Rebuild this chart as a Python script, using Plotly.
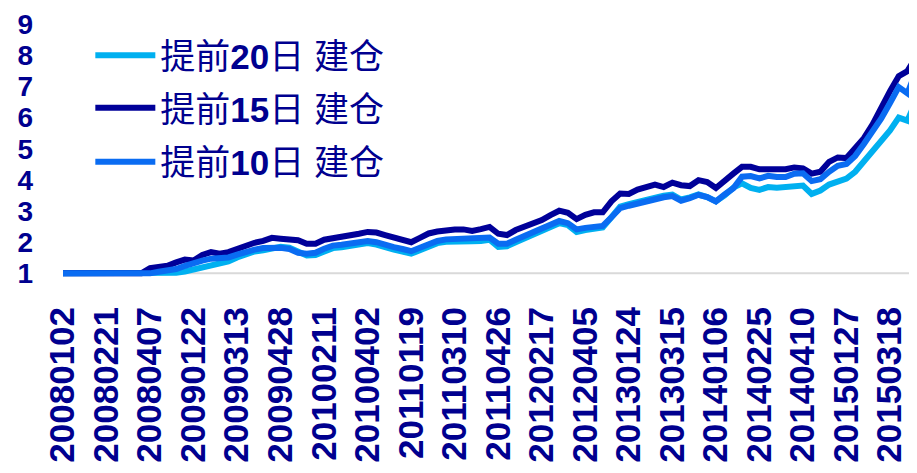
import plotly.graph_objects as go

# ---- data ----
tick_labels = ["20080102", "20080221", "20080407", "20090122", "20090313", "20090428",
               "20100211", "20100402", "20110119", "20110310", "20110426", "20120217",
               "20120405", "20130124", "20130315", "20140106", "20140225", "20140410",
               "20150127", "20150318"]

v20 = [1.00, 1.00, 1.00, 1.00, 1.00, 1.00, 1.00, 1.00, 1.00, 1.00,
       1.00, 1.00, 1.00, 1.02, 1.06, 1.13, 1.21, 1.28, 1.33, 1.38,
       1.51, 1.62, 1.70, 1.74, 1.79, 1.85, 1.82, 1.70, 1.57, 1.59,
       1.71, 1.81, 1.84, 1.87, 1.92, 1.97, 1.92, 1.82, 1.76, 1.70,
       1.63, 1.74, 1.85, 1.97, 2.01, 2.03, 2.02, 2.03, 2.04, 2.08,
       1.85, 1.87, 2.00, 2.12, 2.22, 2.33, 2.47, 2.61, 2.55, 2.33,
       2.39, 2.44, 2.47, 2.80, 3.14, 3.22, 3.30, 3.37, 3.45, 3.49,
       3.53, 3.37, 3.44, 3.53, 3.45, 3.31, 3.50, 3.75, 3.89, 3.74,
       3.68, 3.77, 3.75, 3.77, 3.83, 3.82, 3.55, 3.66, 3.85, 3.97,
       4.04, 4.26, 4.58, 4.89, 5.21, 5.59, 6.00, 5.90, 6.55]

v15 = [1.00, 1.00, 1.00, 1.00, 1.00, 1.00, 1.00, 1.00, 1.00, 1.00,
       1.17, 1.19, 1.24, 1.35, 1.44, 1.41, 1.59, 1.68, 1.63, 1.68,
       1.79, 1.92, 1.98, 2.04, 2.14, 2.11, 2.08, 2.06, 1.95, 1.95,
       2.08, 2.12, 2.17, 2.20, 2.27, 2.33, 2.31, 2.23, 2.16, 2.08,
       2.00, 2.14, 2.28, 2.34, 2.39, 2.41, 2.41, 2.36, 2.42, 2.49,
       2.27, 2.23, 2.39, 2.49, 2.60, 2.71, 2.87, 3.01, 2.94, 2.74,
       2.88, 2.96, 2.96, 3.31, 3.56, 3.55, 3.69, 3.77, 3.85, 3.77,
       3.91, 3.83, 3.80, 3.99, 3.93, 3.74, 3.99, 4.20, 4.42, 4.42,
       4.34, 4.35, 4.37, 4.34, 4.40, 4.37, 4.20, 4.26, 4.58, 4.72,
       4.70, 5.02, 5.34, 5.78, 6.35, 6.85, 7.33, 7.49, 7.96]

v10 = [1.00, 1.00, 1.00, 1.00, 1.00, 1.00, 1.00, 1.00, 1.00, 1.00,
       1.00, 1.05, 1.09, 1.14, 1.24, 1.35, 1.41, 1.47, 1.47, 1.51,
       1.60, 1.70, 1.76, 1.81, 1.82, 1.82, 1.78, 1.66, 1.63, 1.66,
       1.79, 1.89, 1.92, 1.95, 2.00, 2.04, 2.00, 1.90, 1.84, 1.78,
       1.71, 1.82, 1.93, 2.04, 2.09, 2.10, 2.10, 2.11, 2.12, 2.15,
       1.95, 1.95, 2.08, 2.20, 2.28, 2.39, 2.53, 2.68, 2.61, 2.41,
       2.46, 2.50, 2.52, 2.80, 3.09, 3.17, 3.25, 3.33, 3.41, 3.44,
       3.48, 3.33, 3.41, 3.52, 3.45, 3.31, 3.53, 3.73, 4.10, 4.12,
       4.05, 4.13, 4.09, 4.09, 4.20, 4.21, 3.96, 4.02, 4.26, 4.45,
       4.51, 4.77, 5.15, 5.56, 5.97, 6.47, 6.98, 6.78, 7.49]

series_names = ["提前<b>20</b>日 建仓", "提前<b>15</b>日 建仓", "提前<b>10</b>日 建仓"]
y_ticks = [1, 2, 3, 4, 5, 6, 7, 8, 9]

x_index = list(range(len(v20)))
tick_step = 5
tick_pos = [i * tick_step for i in range(len(tick_labels))]

NAVY_TXT = "#00008F"
colors = ["#00B0F0", "#000099", "#0A6CF2"]
legend_ids = ["legend", "legend2", "legend3"]

fig = go.Figure()
for name, vals, col, lg in zip(series_names, [v20, v15, v10], colors, legend_ids):
    fig.add_trace(go.Scatter(x=x_index, y=vals, mode="lines", name=name,
                             line=dict(color=col, width=6), legend=lg))

# light grey axis line at value 1
fig.add_shape(type="line", xref="paper", yref="y", x0=0, x1=1, y0=1, y1=1,
              line=dict(color="#D9D9D9", width=2), layer="below")

leg_font = dict(family="Liberation Sans, Arial, Noto Sans CJK SC", size=35, color=NAVY_TXT)
leg_common = dict(font=leg_font, bgcolor="rgba(0,0,0,0)", xanchor="left", yanchor="middle",
                  itemwidth=60, x=0.032)

# page body adds an 8 px offset; figure is sized/margined to compensate
fig.update_layout(
    width=909, height=465,
    margin=dict(l=55, r=0, t=13, b=195),
    paper_bgcolor="white", plot_bgcolor="white",
    showlegend=True,
    legend=dict(y=0.866, **leg_common),
    legend2=dict(y=0.661, **leg_common),
    legend3=dict(y=0.451, **leg_common),
    xaxis=dict(range=[0, 98.1], showgrid=False, zeroline=False, showline=False,
               tickmode="array", tickvals=tick_pos, ticktext=tick_labels,
               tickangle=-90, ticks="", automargin=False, ticklabelstandoff=21,
               ticklabeloverflow="allow",
               tickfont=dict(family="Liberation Sans, Arial", size=35, color=NAVY_TXT, weight="bold")),
    yaxis=dict(range=[0.85, 9.1], showgrid=False, zeroline=False, showline=False,
               tickmode="array", tickvals=y_ticks, ticks="", automargin=False,
               ticklabelstandoff=29, ticklabeloverflow="allow",
               tickfont=dict(family="Liberation Sans, Arial", size=28, color=NAVY_TXT, weight="bold")),
)

fig.write_html("out.html")
